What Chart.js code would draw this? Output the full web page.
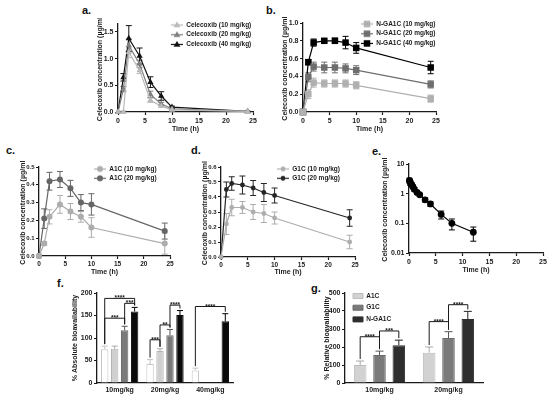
<!DOCTYPE html>
<html>
<head>
<meta charset="utf-8">
<script src="https://cdn.jsdelivr.net/npm/chart.js@4.4.1/dist/chart.umd.min.js"></script>
<style>
  body { margin: 0; background: #fff; width: 550px; height: 398px; position: relative; overflow: hidden;
         font-family: 'Liberation Sans', Arial, sans-serif; }
  canvas { position: absolute; }
  .tag { position: absolute; font-weight: bold; font-size: 11px; line-height: 11px; color: #111; }
</style>
</head>
<body>
<div class="tag" style="left:82px;top:5px">a.</div>
<div class="tag" style="left:266px;top:5px">b.</div>
<div class="tag" style="left:6px;top:145px">c.</div>
<div class="tag" style="left:191px;top:145px">d.</div>
<div class="tag" style="left:372px;top:146px">e.</div>
<div class="tag" style="left:57px;top:278px">f.</div>
<div class="tag" style="left:311px;top:283px">g.</div>

<canvas id="chartA"></canvas>
<canvas id="chartB"></canvas>
<canvas id="chartC"></canvas>
<canvas id="chartD"></canvas>
<canvas id="chartE"></canvas>
<canvas id="chartF"></canvas>
<canvas id="chartG"></canvas>

<script>
// ---- data ----
const sampleTimes = [0, 1, 2, 4, 6, 8, 10, 24];

// a. celecoxib suspension
const cel10 = [0, 0.0, 1.12, 0.78, 0.22, 0.11, 0.04, 0.01];
const cel10Err = [0, 0.02, 0.10, 0.06, 0.04, 0.02, 0.01, 0.005];
const cel20 = [0, 0.43, 1.25, 0.90, 0.33, 0.15, 0.06, 0.01];
const cel20Err = [0, 0.05, 0.12, 0.07, 0.06, 0.03, 0.01, 0.005];
const cel40 = [0, 0.65, 1.38, 1.05, 0.56, 0.30, 0.09, 0.01];
const cel40Err = [0, 0.07, 0.24, 0.15, 0.10, 0.08, 0.02, 0.005];

// b. N-GA1C
const nga10 = [0, 0.20, 0.33, 0.32, 0.32, 0.32, 0.30, 0.15];
const nga10Err = [0, 0.05, 0.05, 0.04, 0.04, 0.04, 0.04, 0.04];
const nga20 = [0, 0.39, 0.51, 0.50, 0.50, 0.49, 0.47, 0.31];
const nga20Err = [0, 0.05, 0.05, 0.06, 0.06, 0.05, 0.05, 0.04];
const nga40 = [0, 0.56, 0.78, 0.80, 0.80, 0.78, 0.72, 0.50];
const nga40Err = [0, 0.03, 0.04, 0.02, 0.03, 0.07, 0.06, 0.07];

// c. A1C
const a1c10 = [0, 0.07, 0.22, 0.29, 0.25, 0.22, 0.16, 0.07];
const a1c10Err = [0, 0.01, 0.04, 0.05, 0.045, 0.03, 0.055, 0.06];
const a1c20 = [0, 0.21, 0.42, 0.43, 0.38, 0.30, 0.29, 0.14];
const a1c20Err = [0, 0.055, 0.05, 0.045, 0.045, 0.045, 0.06, 0.045];

// d. G1C
const g1c10 = [0, 0.22, 0.33, 0.33, 0.30, 0.29, 0.26, 0.10];
const g1c10Err = [0, 0.07, 0.055, 0.04, 0.05, 0.06, 0.04, 0.045];
const g1c20 = [0, 0.45, 0.49, 0.48, 0.46, 0.43, 0.41, 0.26];
const g1c20Err = [0, 0.05, 0.045, 0.06, 0.05, 0.06, 0.05, 0.055];

// e. iv celecoxib (log scale)
const ivTimes = [0.083, 0.167, 0.25, 0.5, 0.75, 1, 1.5, 2, 3, 4, 6, 8, 12];
const ivConc = [2.8, 2.6, 2.3, 2.0, 1.7, 1.4, 1.1, 0.92, 0.62, 0.45, 0.20, 0.10, 0.05];
const ivErr = [0.5, 0.4, 0.4, 0.3, 0.25, 0.2, 0.15, 0.1, 0.1, 0.08, 0.06, 0.04, 0.025];
const logTicks = [0.01, 0.1, 1, 10];

// f. absolute bioavailability
const doseGroups = ['10mg/kg', '20mg/kg', '40mg/kg'];
const absCel = [75, 42, 28];
const absCelErr = [7, 10, 5];
const absA1C = [76, 71, null];
const absA1CErr = [6, 5, 0];
const absG1C = [117, 106, null];
const absG1CErr = [9, 13, 0];
const absNGA = [159, 151, 137];
const absNGAErr = [9, 10, 17];
// significance brackets: group, dataset a, dataset b, bracket height, stars
const absSig = [
  { g: 0, a: 0, b: 2, y: 144, t: '***' },
  { g: 0, a: 2, b: 3, y: 177, t: '***' },
  { g: 0, a: 0, b: 3, y: 188, t: '****' },
  { g: 1, a: 0, b: 1, y: 96, t: '***' },
  { g: 1, a: 1, b: 2, y: 129, t: '**' },
  { g: 1, a: 2, b: 3, y: 173, t: '****' },
  { g: 2, a: 0, b: 3, y: 170, t: '****' }
];

// g. relative bioavailability
const relGroups = ['10mg/kg', '20mg/kg'];
const relA1C = [100, 168];
const relA1CErr = [22, 32];
const relG1C = [155, 250];
const relG1CErr = [22, 35];
const relNGA = [210, 355];
const relNGAErr = [28, 43];
const relSig = [
  { g: 0, a: 0, b: 1, y: 257, t: '****' },
  { g: 0, a: 1, b: 2, y: 289, t: '***' },
  { g: 1, a: 0, b: 1, y: 341, t: '****' },
  { g: 1, a: 1, b: 2, y: 435, t: '****' }
];

// ---- styling helpers ----
const FONT = "'Liberation Sans', Arial, sans-serif";
const INK = '#1a1a1a';
Chart.defaults.font.family = FONT;
Chart.defaults.color = INK;
Chart.defaults.animation = false;

const tickFont = size => ({ family: FONT, size: size, weight: 'bold' });
const titleFont = { family: FONT, size: 7, weight: 'bold' };
const legendFont = { family: FONT, size: 6.5, weight: 'bold' };

// error bars, drawn under the marks
const errorBars = {
  id: 'errorBars',
  beforeDatasetsDraw(chart, args, o) {
    const ctx = chart.ctx, ys = chart.scales.y;
    chart.data.datasets.forEach((ds, i) => {
      if (!ds.errors) return;
      const meta = chart.getDatasetMeta(i);
      ctx.save();
      ctx.strokeStyle = ds.errorColor || ds.borderColor;
      ctx.lineWidth = 1;
      meta.data.forEach((el, j) => {
        const d = ds.data[j];
        const v = (d !== null && typeof d === 'object') ? d.y : d;
        const e = ds.errors[j];
        if (v === null || !e) return;
        const yHi = ys.getPixelForValue(v + e);
        const yLo = o.up ? ys.getPixelForValue(v) : ys.getPixelForValue(v - e);
        const c = o.cap || 3;
        ctx.beginPath();
        ctx.moveTo(el.x, yLo); ctx.lineTo(el.x, yHi);
        ctx.moveTo(el.x - c, yHi); ctx.lineTo(el.x + c, yHi);
        if (!o.up) { ctx.moveTo(el.x - c, yLo); ctx.lineTo(el.x + c, yLo); }
        ctx.stroke();
      });
      ctx.restore();
    });
  }
};

// puts the vertical legend at a fixed spot inside the canvas
const legendAt = {
  id: 'legendAt',
  afterLayout(chart, args, o) {
    const lg = chart.legend;
    if (!lg || o.x === undefined) return;
    const pad = o.pad;
    lg.left = o.x - pad;
    lg.top = o.y - pad - o.fs / 2;
    lg.right = lg.left + lg.width;
    lg.bottom = lg.top + lg.height;
  }
};

// significance brackets for the bar charts
const brackets = {
  id: 'brackets',
  afterDatasetsDraw(chart, args, o) {
    if (!o.items) return;
    const ctx = chart.ctx, ys = chart.scales.y;
    const topOf = (d, g) => {
      const ds = chart.data.datasets[d];
      return ys.getPixelForValue(ds.data[g] + (ds.errors ? ds.errors[g] : 0)) - 2;
    };
    ctx.save();
    ctx.strokeStyle = INK; ctx.fillStyle = INK; ctx.lineWidth = 1;
    ctx.font = 'bold 6.5px ' + FONT;
    ctx.textAlign = 'center'; ctx.textBaseline = 'alphabetic';
    o.items.forEach(b => {
      const xa = chart.getDatasetMeta(b.a).data[b.g].x;
      const xb = chart.getDatasetMeta(b.b).data[b.g].x;
      const yy = ys.getPixelForValue(b.y);
      ctx.beginPath();
      ctx.moveTo(xa, topOf(b.a, b.g)); ctx.lineTo(xa, yy);
      ctx.lineTo(xb, yy); ctx.lineTo(xb, topOf(b.b, b.g));
      ctx.stroke();
      ctx.fillText(b.t, (xa + xb) / 2, yy + 2);
    });
    ctx.restore();
  }
};

Chart.register(errorBars, legendAt, brackets);

// size/position a canvas so that its plot area lands on box (page px)
function frame(id, box, yw, xh) {
  const PT = 6, PR = 7;
  const cv = document.getElementById(id);
  const left = Math.round(box.l - yw), top = Math.round(box.t - PT);
  const w = Math.round(box.r) + PR - left, h = Math.round(box.b) + xh - top;
  cv.style.left = left + 'px'; cv.style.top = top + 'px';
  cv.width = w; cv.height = h;
  cv.style.width = w + 'px'; cv.style.height = h + 'px';
  return { cv, left, top, pad: { top: box.t - top, right: PR, left: 0, bottom: 0 }, yw: box.l - left, xh: h - (box.b - top) };
}

function markerPath(ctx, shape, x, y, r) {
  ctx.beginPath();
  if (shape === 'triangle') {
    ctx.moveTo(x, y - r); ctx.lineTo(x + r * 0.95, y + r * 0.6); ctx.lineTo(x - r * 0.95, y + r * 0.6);
    ctx.closePath();
  } else if (shape === 'rect') {
    const s = r * Math.SQRT1_2;
    ctx.rect(x - s, y - s, 2 * s, 2 * s);
  } else {
    ctx.arc(x, y, r, 0, Math.PI * 2);
  }
}

function legendIcon(color, shape, r) {
  const c = document.createElement('canvas');
  c.width = 12; c.height = 9;
  const x = c.getContext('2d');
  x.strokeStyle = color; x.fillStyle = color; x.lineWidth = 1.2;
  x.beginPath(); x.moveTo(0, 4.5); x.lineTo(12, 4.5); x.stroke();
  markerPath(x, shape, 6, 4.5, r);
  x.fill();
  return c;
}

function series(label, xs, ys, errs, color, shape, r) {
  return {
    label: label,
    data: xs.map((t, i) => ({ x: t, y: ys[i] })),
    errors: errs,
    borderColor: color, backgroundColor: color, borderWidth: 1.2,
    pointStyle: shape, pointRadius: r, pointBorderWidth: 0, pointBackgroundColor: color,
    clip: false, tension: 0
  };
}

function axisBase(title, size, fitKey, fs) {
  return {
    ticks: { font: tickFont(fs), color: INK, padding: 1.5, maxRotation: 0, autoSkip: false },
    grid: { display: true, drawOnChartArea: false, drawTicks: true, tickLength: 3, tickWidth: 1.2, tickColor: INK },
    border: { display: true, color: INK, width: 1.3 },
    title: { display: !!title, text: title, font: titleFont, color: INK, padding: 0 },
    afterFit: s => { s[fitKey] = size; }
  };
}

function legendOpts(f, pos, spacing, pointStyle, boxW, boxH) {
  const labels = {
    font: legendFont, color: INK, padding: spacing - legendFont.size,
    boxWidth: boxW, boxHeight: boxH
  };
  if (pointStyle) {
    labels.usePointStyle = true;
    labels.pointStyleWidth = 12;
    labels.generateLabels = ch => ch.data.datasets.map((ds, i) => ({
      text: ds.label, datasetIndex: i, fontColor: INK, lineWidth: 0,
      fillStyle: ds.borderColor, strokeStyle: ds.borderColor,
      pointStyle: legendIcon(ds.borderColor, ds.pointStyle, ds.pointRadius)
    }));
  }
  return {
    legend: { display: true, position: 'chartArea', align: 'start', labels: labels },
    legendAt: { x: pos.x - f.left, y: pos.y - f.top, pad: labels.padding, fs: legendFont.size }
  };
}

function linY(max, step, shown, digits, fs) {
  return {
    type: 'linear', min: 0, max: max,
    afterBuildTicks: s => {
      const out = [];
      for (let v = 0; v <= shown + 1e-9; v += step) out.push({ value: +v.toFixed(3) });
      s.ticks = out;
    },
    ticks: { font: tickFont(fs), color: INK, padding: 1.5, callback: v => v.toFixed(digits) }
  };
}

function pkChart(id, box, yw, xh, cfg) {
  const f = frame(id, box, yw, xh);
  const x = Object.assign(axisBase('Time (h)', f.xh, 'height', cfg.fs), { type: 'linear', min: 0, max: 25 });
  x.ticks.stepSize = 5;
  const y = Object.assign(axisBase('Celecoxib concentration (\u00b5g/ml)', f.yw, 'width', cfg.fs), cfg.y);
  const plugins = { tooltip: { enabled: false }, errorBars: { cap: 3 } };
  if (cfg.legend) Object.assign(plugins, legendOpts(f, cfg.legend, cfg.legend.dy, true, 12, 6.5));
  else plugins.legend = { display: false };
  return new Chart(f.cv, {
    type: 'line',
    data: { datasets: cfg.datasets },
    options: {
      responsive: false, maintainAspectRatio: false,
      layout: { padding: f.pad },
      scales: { x: x, y: y },
      plugins: plugins
    }
  });
}

// ---- a ----
pkChart('chartA', { l: 118, r: 253, t: 24, b: 112 }, 22.5, 21, {
  fs: 7,
  y: linY(1.65, 0.5, 1.5, 1, 7),
  legend: { x: 171, y: 25, dy: 9.7 },
  datasets: [
    series('Celecoxib (10 mg/kg)', sampleTimes, cel10, cel10Err, '#b9b9b9', 'triangle', 3.6),
    series('Celecoxib (20 mg/kg)', sampleTimes, cel20, cel20Err, '#7f7f7f', 'triangle', 3.6),
    series('Celecoxib (40 mg/kg)', sampleTimes, cel40, cel40Err, '#111111', 'triangle', 3.6)
  ]
});

// ---- b ----
pkChart('chartB', { l: 303, r: 436, t: 23, b: 112 }, 22.5, 21, {
  fs: 7,
  y: linY(1.0, 0.2, 1.0, 1, 7),
  legend: { x: 361, y: 24, dy: 9.7 },
  datasets: [
    series('N-GA1C (10 mg/kg)', sampleTimes, nga10, nga10Err, '#b0b0b0', 'rect', 4.6),
    series('N-GA1C (20 mg/kg)', sampleTimes, nga20, nga20Err, '#6e6e6e', 'rect', 4.6),
    series('N-GA1C (40 mg/kg)', sampleTimes, nga40, nga40Err, '#000000', 'rect', 4.6)
  ]
});

// ---- c ----
pkChart('chartC', { l: 39, r: 170, t: 167, b: 256 }, 20, 20, {
  fs: 6.5,
  y: linY(0.5, 0.1, 0.5, 1, 6),
  legend: { x: 94, y: 169, dy: 9.3 },
  datasets: [
    series('A1C (10 mg/kg)', sampleTimes, a1c10, a1c10Err, '#adadad', 'circle', 3),
    series('A1C (20 mg/kg)', sampleTimes, a1c20, a1c20Err, '#666666', 'circle', 3)
  ]
});

// ---- d ----
pkChart('chartD', { l: 221, r: 355, t: 167, b: 257 }, 20, 19, {
  fs: 6.5,
  y: linY(0.6, 0.1, 0.6, 1, 6),
  legend: { x: 277, y: 169, dy: 9.3 },
  datasets: [
    series('G1C (10 mg/kg)', sampleTimes, g1c10, g1c10Err, '#adadad', 'circle', 2.4),
    series('G1C (20 mg/kg)', sampleTimes, g1c20, g1c20Err, '#252525', 'circle', 2.4)
  ]
});

// ---- e ----
pkChart('chartE', { l: 409, r: 543, t: 164, b: 253 }, 28, 21, {
  fs: 7,
  y: {
    type: 'logarithmic', min: 0.01, max: 10,
    afterBuildTicks: s => { s.ticks = logTicks.map(v => ({ value: v })); },
    ticks: { font: tickFont(7), color: INK, padding: 1.5, callback: v => String(v) }
  },
  datasets: [
    series('IV', ivTimes, ivConc, ivErr, '#000000', 'circle', 3.4)
  ]
});

// ---- bar charts ----
function barSet(label, vals, errs, fill, border, errColor, pct) {
  return {
    label: label, data: vals, errors: errs,
    backgroundColor: fill, borderColor: border, borderWidth: 1, errorColor: errColor,
    barPercentage: pct[0], categoryPercentage: pct[1]
  };
}

function barChart(id, box, yw, xh, cfg) {
  const f = frame(id, box, yw, xh);
  const x = Object.assign(axisBase('', f.xh, 'height', 7), { type: 'category', offset: true });
  x.grid = { display: false, drawTicks: false };
  x.ticks.padding = 3;
  const y = Object.assign(axisBase(cfg.yTitle, f.yw, 'width', 7), cfg.y);
  const plugins = Object.assign({
    tooltip: { enabled: false },
    errorBars: { up: true, cap: cfg.cap },
    brackets: { items: cfg.sig }
  }, legendOpts(f, cfg.legend, cfg.legend.dy, false, 10, 5));
  return new Chart(f.cv, {
    type: 'bar',
    data: { labels: cfg.labels, datasets: cfg.datasets },
    options: {
      responsive: false, maintainAspectRatio: false,
      layout: { padding: f.pad },
      scales: { x: x, y: y },
      plugins: plugins
    }
  });
}

// ---- f ----
const fPct = [0.74, 0.88];
barChart('chartF', { l: 97, r: 233, t: 293, b: 383 }, 26.5, 14, {
  labels: doseGroups,
  yTitle: '% Absolute bioavailability',
  y: linY(200, 50, 200, 0, 7),
  cap: 3,
  sig: absSig,
  legend: { x: 243, y: 299, dy: 12 },
  datasets: [
    barSet('Celecoxib', absCel, absCelErr, '#ffffff', '#c4c4c4', '#c4c4c4', fPct),
    barSet('A1C', absA1C, absA1CErr, '#d0d0d0', '#b4b4b4', '#a8a8a8', fPct),
    barSet('G1C', absG1C, absG1CErr, '#7a7a7a', '#6a6a6a', '#555555', fPct),
    barSet('N-GA1C', absNGA, absNGAErr, '#0a0a0a', '#0a0a0a', '#000000', fPct)
  ]
});

// ---- g ----
const gPct = [0.65, 0.84];
barChart('chartG', { l: 345, r: 483, t: 293, b: 383 }, 22.5, 14, {
  labels: relGroups,
  yTitle: '% Relative bioavailability',
  y: linY(500, 100, 500, 0, 7),
  cap: 4,
  sig: relSig,
  legend: { x: 353, y: 296, dy: 11.7 },
  datasets: [
    barSet('A1C', relA1C, relA1CErr, '#d2d2d2', '#bdbdbd', '#a8a8a8', gPct),
    barSet('G1C', relG1C, relG1CErr, '#7a7a7a', '#6a6a6a', '#555555', gPct),
    barSet('N-GA1C', relNGA, relNGAErr, '#2e2e2e', '#2e2e2e', '#222222', gPct)
  ]
});
</script>
</body>
</html>
